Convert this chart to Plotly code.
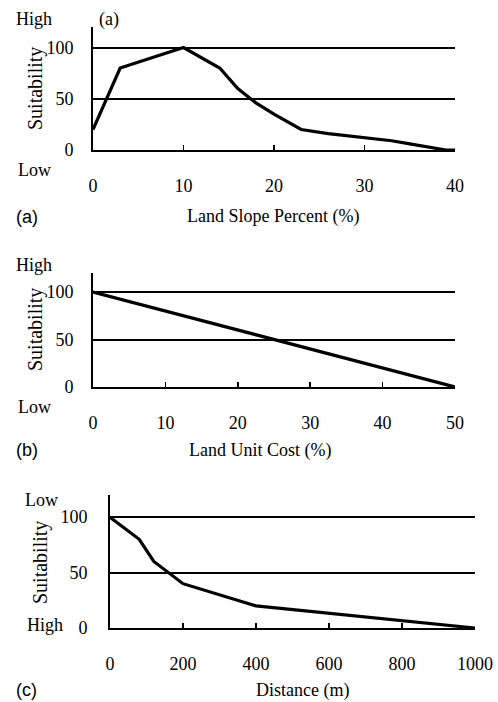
import plotly.graph_objects as go

# Panel (a): Land slope percent vs suitability
slope_x = [0, 3, 10, 14, 16, 18, 20, 23, 26, 30, 33, 35, 39, 40]
slope_y = [20, 80, 100, 80, 60, 46, 35, 20, 16, 12, 9, 6, 0, 0]
slope_ticks = [0, 10, 20, 30, 40]

# Panel (b): Land unit cost vs suitability
cost_x = [0, 50]
cost_y = [100, 0]
cost_ticks = [0, 10, 20, 30, 40, 50]

# Panel (c): Distance vs suitability
dist_x = [0, 80, 120, 200, 400, 1000]
dist_y = [100, 80, 60, 40, 20, 0]
dist_ticks = [0, 200, 400, 600, 800, 1000]

suit_ticks = [0, 50, 100]

W, H = 498, 702
SERIF = "Liberation Serif, Times New Roman, serif"
SANS = "Liberation Sans, Arial, sans-serif"
FS = 18

def fx(px):
    return px / W

def fy(py):
    return 1 - py / H

fig = go.Figure()
line_style = dict(color="black", width=3.2)
fig.add_trace(go.Scatter(x=slope_x, y=slope_y, mode="lines", line=line_style, xaxis="x", yaxis="y"))
fig.add_trace(go.Scatter(x=cost_x, y=cost_y, mode="lines", line=line_style, xaxis="x2", yaxis="y2"))
fig.add_trace(go.Scatter(x=dist_x, y=dist_y, mode="lines", line=line_style, xaxis="x3", yaxis="y3"))

def xax(domain, rng, ticks, anchor):
    return dict(domain=domain, range=rng, tickvals=ticks, ticktext=[str(t) for t in ticks],
                showline=True, linecolor="black", linewidth=2, ticks="inside", ticklen=5,
                tickwidth=1.5, tickcolor="black", showgrid=False, zeroline=False,
                tickfont=dict(family=SERIF, size=FS, color="black"), anchor=anchor,
                ticklabelstandoff=18, fixedrange=True, automargin=False)

def yax(domain, anchor, standoff):
    return dict(domain=domain, range=[0, 120], tickvals=suit_ticks, ticktext=[str(t) for t in suit_ticks],
                showline=True, linecolor="black", linewidth=2, ticks="", showgrid=True,
                gridcolor="black", gridwidth=2, zeroline=False,
                tickfont=dict(family=SERIF, size=FS, color="black"), anchor=anchor,
                ticklabelstandoff=standoff, fixedrange=True, automargin=False)

fig.update_layout(
    width=W, height=H, margin=dict(l=0, r=0, t=0, b=0, autoexpand=False),
    paper_bgcolor="white", plot_bgcolor="white", showlegend=False,
    xaxis=xax([fx(93), fx(455)], [0, 40], slope_ticks, "y"),
    yaxis=yax([fy(150), fy(27)], "x", 14),
    xaxis2=xax([fx(93), fx(455)], [0, 50], cost_ticks, "y2"),
    yaxis2=yax([fy(387), fy(273)], "x2", 14),
    xaxis3=xax([fx(110), fx(475)], [0, 1000], dist_ticks, "y3"),
    yaxis3=yax([fy(628), fy(495)], "x3", 17),
)

def ann(text, x, y, family=SERIF, size=FS, angle=0, xanchor="center"):
    fig.add_annotation(text=text, x=fx(x), y=fy(y), xref="paper", yref="paper",
                       showarrow=False, textangle=angle, xanchor=xanchor, yanchor="middle",
                       font=dict(family=family, size=size, color="black"))

# Panel (a)
ann("High", 14, 19, xanchor="left")
ann("(a)", 97, 19, xanchor="left")
ann("Low", 16, 170, xanchor="left")
ann("Suitability", 35, 89, size=20, angle=-90)
ann("(a)", 14, 217, family=SANS, xanchor="left")
ann("Land Slope Percent (%)", 273, 217)

# Panel (b)
ann("High", 14, 265, xanchor="left")
ann("Low", 16, 407, xanchor="left")
ann("Suitability", 35, 330, size=20, angle=-90)
ann("(b)", 14, 450, family=SANS, xanchor="left")
ann("Land Unit Cost (%)", 260, 450)

# Panel (c)
ann("Low", 23, 500, xanchor="left")
ann("High", 25, 625, xanchor="left")
ann("Suitability", 40, 563, size=20, angle=-90)
ann("(c)", 14, 690, family=SANS, xanchor="left")
ann("Distance (m)", 302, 690)

fig.write_html(
    "out.html",
    config={"displayModeBar": False, "staticPlot": True},
    post_script="document.body.style.margin='0';document.body.style.overflow='hidden';",
)
